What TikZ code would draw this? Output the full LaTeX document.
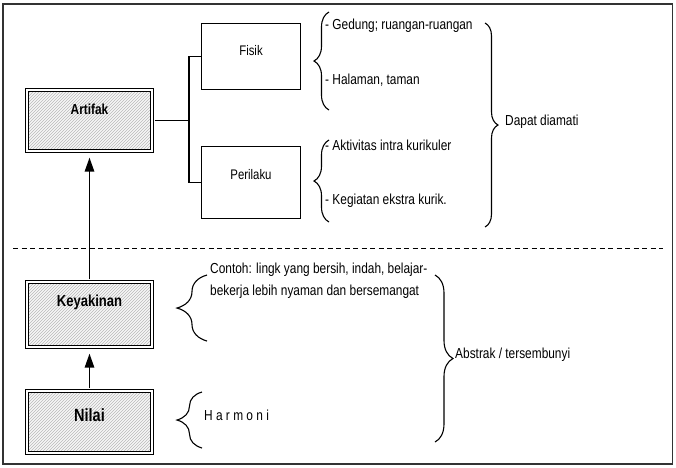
\documentclass[tikz,border=0pt]{standalone}
\usepackage{fontspec}
\setmainfont{Liberation Sans}[FakeStretch=0.82]
\usetikzlibrary{arrows.meta,patterns,decorations.pathreplacing}
\tikzset{
  layerbox/.style={draw, line width=1.1pt, double, double distance=1.6pt, inner sep=0pt,
    minimum width=125.2pt, preaction={fill=gray!6}, pattern=north east lines, pattern color=gray!55},
  groupbox/.style={draw, line width=1.1pt, inner sep=0pt, minimum width=99pt,
    font=\fontsize{13.9}{16}\selectfont},
  note/.style={anchor=base west, inner sep=0pt, font=\fontsize{14.5}{17}\selectfont},
  link/.style={line width=1.1pt},
  uparrow/.style={line width=1.4pt, -{Triangle[length=14pt,width=9.5pt]}, shorten <=1.9pt, shorten >=6pt},
  curly/.style={decorate, decoration={brace, amplitude=#1}, line width=1.1pt},
}

\begin{document}
\begin{tikzpicture}[x=1pt, y=-1pt]

\useasboundingbox (0,0) rectangle (676,467);

% Frame
\draw[line width=1.3pt, black!80] (3,4) rectangle (672.7,464);

% Layers
\node[layerbox, text height=24.1pt, text depth=37.1pt, font=\fontsize{14.5}{16}\selectfont\bfseries] (artifak) at (89.5,120.5) {Artifak};
\node[layerbox, text height=24.1pt, text depth=41.1pt, font=\fontsize{15.9}{18}\selectfont\bfseries] (keyakinan) at (89.5,314.5) {Keyakinan};
\node[layerbox, text height=30.8pt, text depth=31.4pt, font=\fontsize{17.7}{20}\selectfont\bfseries] (nilai) at (89.5,422) {Nilai};

% Artifak groups
\node[groupbox, text height=32.2pt, text depth=33.8pt] (fisik) at (251,56.5) {Fisik};
\node[groupbox, text height=32.5pt, text depth=39.5pt] (perilaku) at (251,182.5) {Perilaku};

\coordinate (fork) at (189,120.5);
\draw[link, shorten <=1.9pt] (artifak.east) -- (fork);
\draw[link] (fisik.west) -| (fork) |- (perilaku.west);

% Arrows upward
\draw[uparrow] (nilai.north) -- (keyakinan.south);
\draw[uparrow] (keyakinan.north) -- (artifak.south);

% Divider
\draw[line width=1.3pt, dash pattern=on 5pt off 3.5pt] (13,248.3) -- (663,248.3);

% Visible items
\draw[curly=15pt] (329,110) -- (329,12);
\draw[curly=15pt] (329,222) -- (329,140);
\node[note] (gedung) at (325,29.3) {- Gedung; ruangan-ruangan};
\node[note] (halaman) at (325,84) {- Halaman, taman};
\node[note] (aktivitas) at (325,150) {- Aktivitas intra kurikuler};
\node[note] (kegiatan) at (325,204) {- Kegiatan ekstra kurik.};

\draw[curly=13pt] (485,23) -- (485,227);
\node[note] (diamati) at (505,125) {Dapat diamati};

% Hidden items
\draw[curly=30pt] (207,341) -- (207,275);
\node[note, align=left, font=\fontsize{14.5}{22}\selectfont] (contoh) at (210,295) {Contoh: lingk yang bersih, indah, belajar-\\bekerja lebih nyaman dan bersemangat};
\draw[curly=25pt] (202,448) -- (202,392);
\node[note] (harmoni) at (204,420) {H a r m o n i};

\draw[curly=18pt] (435,275) -- (435,442);
\node[note] (abstrak) at (455,358) {Abstrak / tersembunyi};

\end{tikzpicture}
\end{document}
